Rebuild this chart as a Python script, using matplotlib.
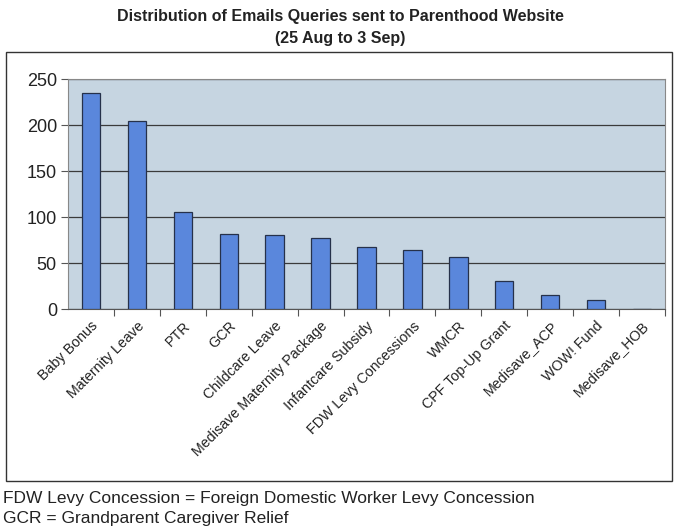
import matplotlib.pyplot as plt
from matplotlib.patches import Rectangle

plt.rcParams['font.family'] = ['Liberation Sans', 'DejaVu Sans']

categories = ['Baby Bonus', 'Maternity Leave', 'PTR', 'GCR', 'Childcare Leave',
              'Medisave Maternity Package', 'Infantcare Subsidy', 'FDW Levy Concessions',
              'WMCR', 'CPF Top-Up Grant', 'Medisave_ACP', 'WOW! Fund', 'Medisave_HOB']
queries = [235, 204, 106, 82, 81, 77, 67, 64, 57, 31, 15, 10, 0]
yticks = [0, 50, 100, 150, 200, 250]

fig = plt.figure(figsize=(6.8, 5.32), dpi=100)
ax = fig.add_axes([0.1, 0.419, 0.878, 0.4325])

# outer frame around the chart
fig.patches.append(Rectangle((6 / 680, 1 - 481 / 532), 666 / 680, 429 / 532,
                             transform=fig.transFigure, fill=False,
                             edgecolor='#333333', linewidth=1.0))

ax.set_facecolor('#c6d5e1')
x = range(len(categories))
ax.bar(x, queries, width=0.4, color='#5a87dc', edgecolor='#26314a', linewidth=0.9, zorder=3)

ax.set_xlim(-0.5, len(categories) - 0.5)
ax.set_ylim(0, 250)
ax.set_yticks(yticks)
ax.yaxis.grid(True, color='#3a3a3a', linewidth=0.9, zorder=1)
ax.tick_params(axis='y', labelsize=13, length=5, color='#555555', pad=3, labelcolor='#222222')

ax.set_xticks([i + 0.5 for i in range(len(categories))], minor=False)
ax.set_xticklabels([])
ax.set_xticks(list(x), minor=True)
ax.set_xticklabels(categories, minor=True, rotation=45, ha='right', rotation_mode='anchor',
                   fontsize=10.3, color='#222222')
ax.tick_params(axis='x', which='major', length=5, color='#555555')
ax.tick_params(axis='x', which='minor', length=0, pad=7)

for side in ['top', 'right', 'left', 'bottom']:
    ax.spines[side].set_color('#888888')
ax.spines['bottom'].set_color('#555555')

fig.text(0.5, 1 - 16 / 532, 'Distribution of Emails Queries sent to Parenthood Website',
         ha='center', va='center', fontsize=11.5, fontweight='bold', color='#222222')
fig.text(0.5, 1 - 38 / 532, '(25 Aug to 3 Sep)',
         ha='center', va='center', fontsize=11.5, fontweight='bold', color='#222222')

fig.text(3 / 680, 1 - 498 / 532, 'FDW Levy Concession = Foreign Domestic Worker Levy Concession',
         ha='left', va='center', fontsize=12.5, color='#222222')
fig.text(3 / 680, 1 - 518 / 532, 'GCR = Grandparent Caregiver Relief',
         ha='left', va='center', fontsize=12.5, color='#222222')

fig.savefig('out.png', dpi=100)
